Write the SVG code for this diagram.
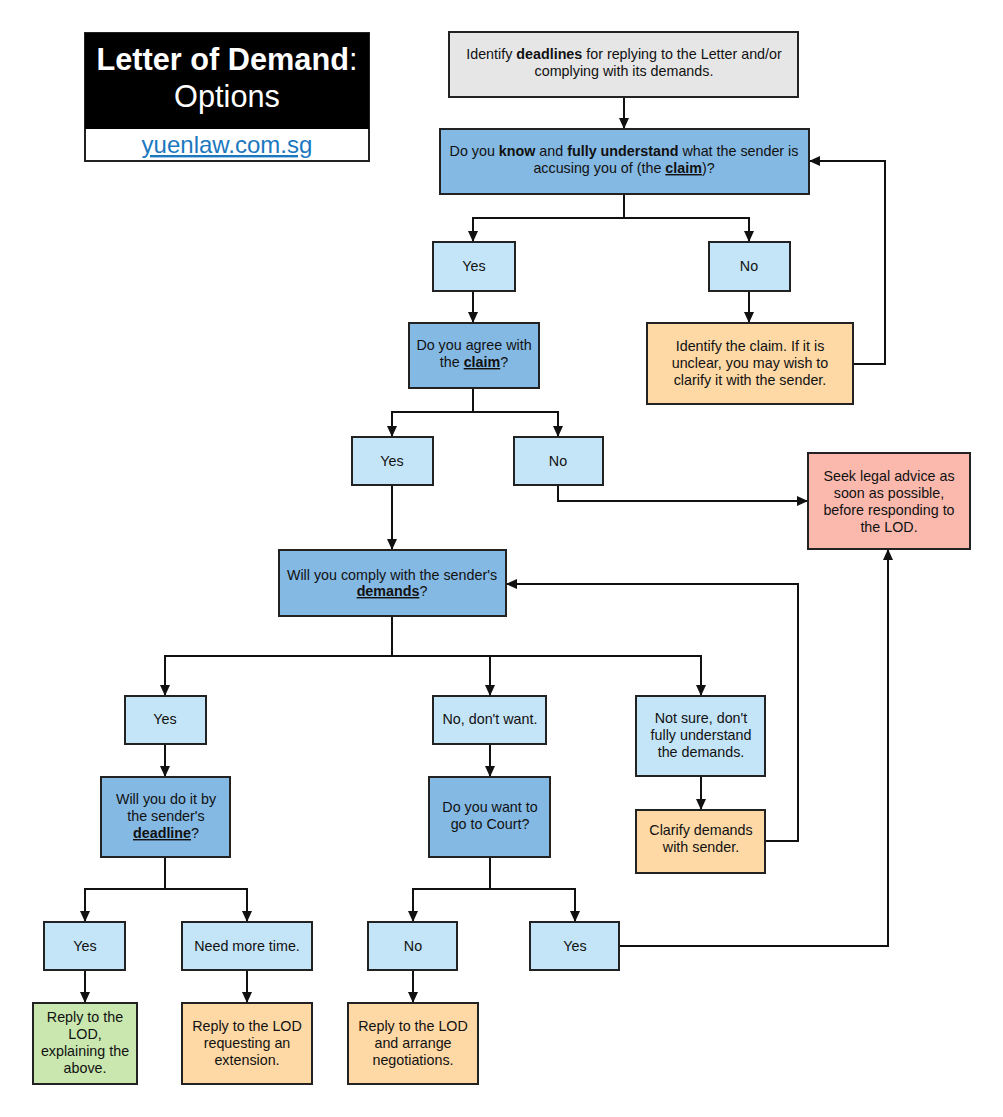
<svg xmlns="http://www.w3.org/2000/svg" width="1003" height="1117" viewBox="0 0 1003 1117">
<style>
text{font-family:"Liberation Sans",Arial,sans-serif;font-size:14.3px;fill:#111;text-anchor:middle}
.n rect{stroke:#222;stroke-width:2}
.grey{fill:#e6e6e6}.q{fill:#84b9e4}.a{fill:#c4e4f7}.o{fill:#fed9a6}.p{fill:#fbb9ae}.g{fill:#c9e7ae}
.b{font-weight:bold}.u{font-weight:bold;text-decoration:underline}
#conn path{fill:none;stroke:#111;stroke-width:2}
</style>
<defs>
<marker id="ar" markerUnits="userSpaceOnUse" markerWidth="12" markerHeight="10" refX="11" refY="5" orient="auto"><path d="M0,0 L11,5 L0,10 z" fill="#111"/></marker>
</defs>
<rect width="1003" height="1117" fill="#fff"/>
<g id="title">
<rect x="85" y="33" width="284" height="128" fill="#fff" stroke="#222" stroke-width="2"/>
<rect x="85" y="33" width="284" height="96" fill="#000"/>
<text x="227" y="70" style="font-size:30.7px;fill:#fff"><tspan font-weight="bold">Letter of Demand</tspan>:</text>
<text x="227" y="107" style="font-size:30.7px;fill:#fff">Options</text>
<text x="227" y="153" style="font-size:24px;fill:#1b78c0;text-decoration:underline">yuenlaw.com.sg</text>
</g>
<g id="conn">
<path d="M624,97 V129" marker-end="url(#ar)"/>
<path d="M624,194 V218 H473 V242" marker-end="url(#ar)"/>
<path d="M624,218 H749 V242" marker-end="url(#ar)"/>
<path d="M473,291 V323" marker-end="url(#ar)"/>
<path d="M749,291 V323" marker-end="url(#ar)"/>
<path d="M853,364 H885 V161 H809" marker-end="url(#ar)"/>
<path d="M473,388 V412 H392 V437" marker-end="url(#ar)"/>
<path d="M473,412 H558 V437" marker-end="url(#ar)"/>
<path d="M392,485 V550" marker-end="url(#ar)"/>
<path d="M558,485 V501 H808" marker-end="url(#ar)"/>
<path d="M392,616 V656 H165 V696" marker-end="url(#ar)"/>
<path d="M392,656 H490 V696" marker-end="url(#ar)"/>
<path d="M490,656 H701 V696" marker-end="url(#ar)"/>
<path d="M165,744 V777" marker-end="url(#ar)"/>
<path d="M490,744 V777" marker-end="url(#ar)"/>
<path d="M701,776 V810" marker-end="url(#ar)"/>
<path d="M765,841 H798 V584 H506" marker-end="url(#ar)"/>
<path d="M165,857 V889 H85 V922" marker-end="url(#ar)"/>
<path d="M165,889 H247 V922" marker-end="url(#ar)"/>
<path d="M490,857 V889 H413 V922" marker-end="url(#ar)"/>
<path d="M490,889 H575 V922" marker-end="url(#ar)"/>
<path d="M619,946 H888 V549" marker-end="url(#ar)"/>
<path d="M85,970 V1003" marker-end="url(#ar)"/>
<path d="M247,970 V1003" marker-end="url(#ar)"/>
<path d="M413,970 V1003" marker-end="url(#ar)"/>
</g>
<g id="n1" class="n"><rect class="grey" x="449" y="32" width="349" height="65"/><text x="624" y="59">Identify <tspan class="b">deadlines</tspan> for replying to the Letter and/or</text><text x="624" y="76">complying with its demands.</text></g>
<g id="n2" class="n"><rect class="q" x="440" y="129" width="369" height="65"/><text x="624" y="156">Do you <tspan class="b">know</tspan> and <tspan class="b">fully understand</tspan> what the sender is</text><text x="624" y="173">accusing you of (the <tspan class="u">claim</tspan>)?</text></g>
<g id="yes1" class="n"><rect class="a" x="433" y="242" width="82" height="49"/><text x="474" y="271">Yes</text></g>
<g id="no1" class="n"><rect class="a" x="709" y="242" width="81" height="49"/><text x="749" y="271">No</text></g>
<g id="agree" class="n"><rect class="q" x="409" y="323" width="130" height="65"/><text x="474" y="350">Do you agree with</text><text x="474" y="367">the <tspan class="u">claim</tspan>?</text></g>
<g id="identify" class="n"><rect class="o" x="647" y="323" width="206" height="81"/><text x="750" y="351">Identify the claim. If it is</text><text x="750" y="368">unclear, you may wish to</text><text x="750" y="385">clarify it with the sender.</text></g>
<g id="yes2" class="n"><rect class="a" x="352" y="437" width="81" height="48"/><text x="392" y="466">Yes</text></g>
<g id="no2" class="n"><rect class="a" x="514" y="437" width="89" height="48"/><text x="558" y="466">No</text></g>
<g id="seek" class="n"><rect class="p" x="808" y="453" width="162" height="96"/><text x="889" y="481">Seek legal advice as</text><text x="889" y="498">soon as possible,</text><text x="889" y="515">before responding to</text><text x="889" y="532">the LOD.</text></g>
<g id="comply" class="n"><rect class="q" x="279" y="550" width="227" height="66"/><text x="392" y="580">Will you comply with the sender's</text><text x="392" y="596"><tspan class="u">demands</tspan>?</text></g>
<g id="yes3" class="n"><rect class="a" x="125" y="696" width="81" height="48"/><text x="165" y="724">Yes</text></g>
<g id="nodont" class="n"><rect class="a" x="433" y="696" width="113" height="48"/><text x="490" y="724">No, don't want.</text></g>
<g id="notsure" class="n"><rect class="a" x="636" y="696" width="129" height="80"/><text x="701" y="723">Not sure, don't</text><text x="701" y="740">fully understand</text><text x="701" y="757">the demands.</text></g>
<g id="dobydl" class="n"><rect class="q" x="101" y="777" width="129" height="80"/><text x="166" y="804">Will you do it by</text><text x="166" y="821">the sender's</text><text x="166" y="838"><tspan class="u">deadline</tspan>?</text></g>
<g id="court" class="n"><rect class="q" x="429" y="777" width="121" height="80"/><text x="490" y="812">Do you want to</text><text x="490" y="829">go to Court?</text></g>
<g id="clarify" class="n"><rect class="o" x="636" y="810" width="129" height="63"/><text x="701" y="835">Clarify demands</text><text x="701" y="852">with sender.</text></g>
<g id="yes4" class="n"><rect class="a" x="44" y="922" width="81" height="48"/><text x="85" y="951">Yes</text></g>
<g id="needtime" class="n"><rect class="a" x="182" y="922" width="130" height="48"/><text x="247" y="951">Need more time.</text></g>
<g id="no4" class="n"><rect class="a" x="368" y="922" width="89" height="48"/><text x="413" y="951">No</text></g>
<g id="yes5" class="n"><rect class="a" x="530" y="922" width="89" height="48"/><text x="575" y="951">Yes</text></g>
<g id="replygreen" class="n"><rect class="g" x="33" y="1003" width="104" height="81"/><text x="85" y="1022">Reply to the</text><text x="85" y="1039">LOD,</text><text x="85" y="1056">explaining the</text><text x="85" y="1073">above.</text></g>
<g id="replyext" class="n"><rect class="o" x="182" y="1003" width="130" height="81"/><text x="247" y="1031">Reply to the LOD</text><text x="247" y="1048">requesting an</text><text x="247" y="1065">extension.</text></g>
<g id="replyneg" class="n"><rect class="o" x="348" y="1003" width="130" height="81"/><text x="413" y="1031">Reply to the LOD</text><text x="413" y="1048">and arrange</text><text x="413" y="1065">negotiations.</text></g>
</svg>
